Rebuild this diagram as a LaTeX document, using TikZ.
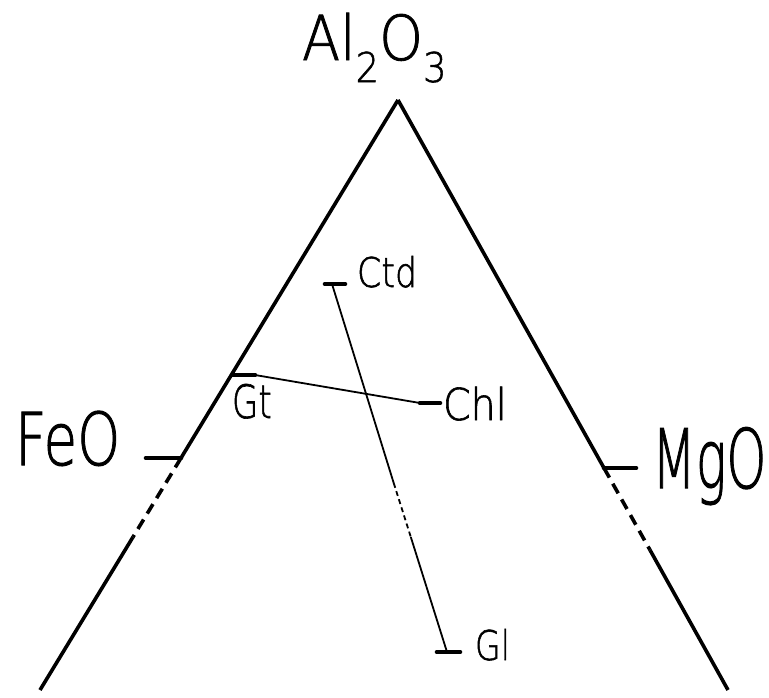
\documentclass[tikz,border=0pt]{standalone}
\usepackage{fontspec}
\newfontfamily\lab{DejaVu Sans ExtraLight}[AutoFakeBold=1.4]
\newcommand\sq[2]{\scalebox{#1}[1]{#2}}
\newcommand\fs[1]{\fontsize{#1}{#1}\selectfont}
\begin{document}
\begin{tikzpicture}[x=1pt,y=-1pt,
  side/.style={line width=3.6pt},
  tie/.style={line width=1.8pt},
  tickmark/.style={line width=4.6pt, line cap=round},
  lbl/.style={anchor=base west, inner sep=0pt, outer sep=0pt, font=\lab\bfseries}]
\useasboundingbox (0,0) rectangle (769,697);
% triangle
\coordinate (A) at (398,100);
\coordinate (L) at (40,690);
\coordinate (R) at (728,690);
\coordinate (Lt) at (181,458);
\coordinate (Ld) at (133,537);
\coordinate (Rt) at (604,468);
\coordinate (Rd) at (650,550);
\draw[side] (A) -- (Lt);
\draw[side, dash pattern=on 11pt off 7pt] (Lt) -- (Ld);
\draw[side] (Ld) -- (L);
\draw[side] (A) -- (Rt);
\draw[side, dash pattern=on 11pt off 7pt] (Rt) -- (Rd);
\draw[side] (Rd) -- (R);
% side ticks
\coordinate (Fe) at (146,458);
\coordinate (Mg) at (636,468);
\draw[tickmark] (Fe) -- (Lt);
\draw[tickmark] (Rt) -- (Mg);
% labels
\node[lbl] (al) at (302,60) {\sq{0.9}{\fs{62}Al\raisebox{-22pt}{\fs{41}2}O\raisebox{-22pt}{\fs{41}3}}};
\node[lbl] (feo) at (15,465) {\sq{0.75}{\fs{73}FeO}};
\node[lbl] (mgo) at (652,488) {\sq{0.62}{\fs{82}MgO}};
% phases
\coordinate (ctdL) at (325,284);
\coordinate (ctdR) at (345,284);
\coordinate (ctd) at (332,284);
\coordinate (glL) at (437,652);
\coordinate (glR) at (460,652);
\coordinate (gl) at (447,652);
\coordinate (ctdD1) at (393.7,483);
\coordinate (ctdD2) at (410.8,537);
\coordinate (gtL) at (232,375);
\coordinate (gtR) at (255,375);
\coordinate (chlL) at (420,403);
\coordinate (chlR) at (440,403);
\draw[tickmark] (ctdL) -- (ctdR);
\draw[tickmark] (glL) -- (glR);
\draw[tickmark] (gtL) -- (gtR);
\draw[tickmark] (chlL) -- (chlR);
\draw[tie] (ctd) -- (ctdD1);
\draw[tie, dash pattern=on 5pt off 3.5pt] (ctdD1) -- (ctdD2);
\draw[tie] (ctdD2) -- (gl);
\draw[tie] (gtR) -- (chlL);
\node[lbl] (ctdlab) at (357,287) {\sq{0.85}{\fs{41}Ctd}};
\node[lbl] (chllab) at (443,420) {\sq{0.9}{\fs{44}Chl}};
\node[lbl] (gtlab) at (232,418) {\sq{0.74}{\fs{46}Gt}};
\node[lbl] (gllab) at (475,660) {\sq{0.81}{\fs{41}Gl}};
\end{tikzpicture}
\end{document}
